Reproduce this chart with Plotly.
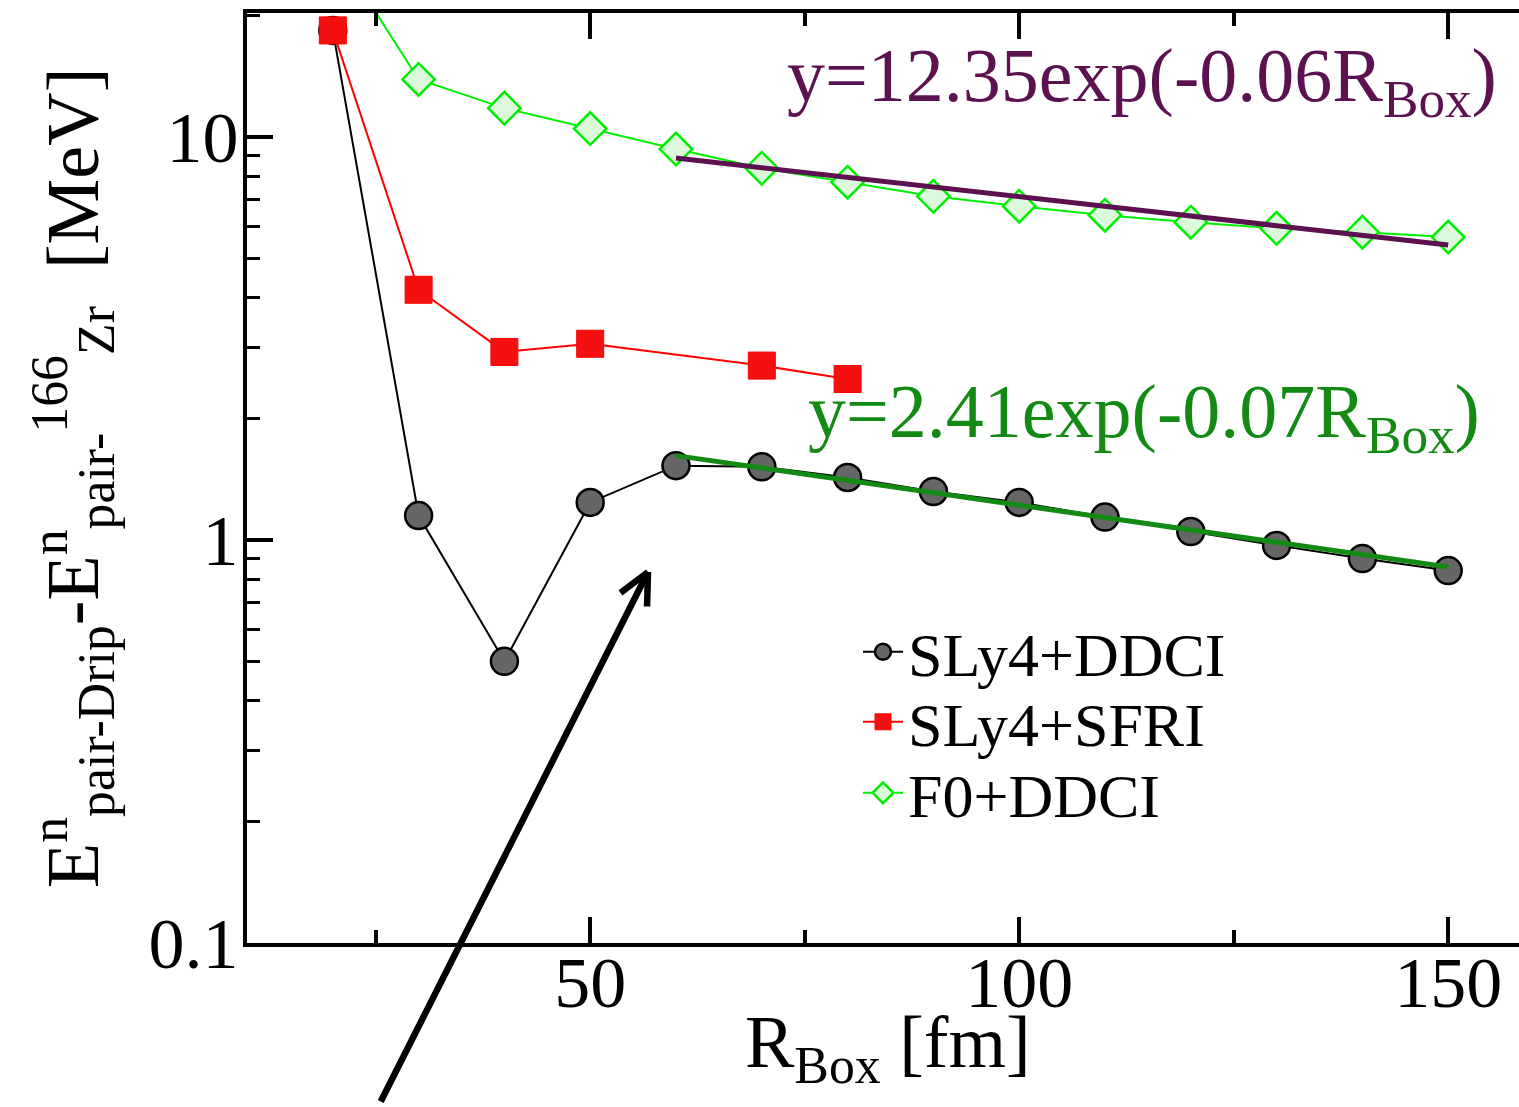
import plotly.graph_objects as go

# ---- data ----
r_box = [20, 30, 40, 50, 60, 70, 80, 90, 100, 110, 120, 130, 140, 150]
sly4_ddci = [18.4, 1.15, 0.50, 1.24, 1.53, 1.52, 1.43, 1.32, 1.24, 1.14, 1.05, 0.97, 0.90, 0.84]

r_box_sfri = [20, 30, 40, 50, 70, 80]
sly4_sfri = [18.4, 4.18, 2.93, 3.07, 2.71, 2.51]

f0_ddci = [30.0, 13.9, 11.8, 10.5, 9.34, 8.37, 7.73, 7.13, 6.74, 6.40, 6.15, 5.94, 5.81, 5.65]

fit_x = [60, 150]
fit_f0 = [8.87, 5.40]
fit_sly4 = [1.62, 0.857]

x_tickvals = [50, 100, 150]
x_minor_vals = [25, 75, 125]
y_tickvals = [0.1, 1, 10]
y_ticktext = ["0.1", "1", "10"]
y_minor_vals = [0.2, 0.3, 0.4, 0.5, 0.6, 0.7, 0.8, 0.9, 2, 3, 4, 5, 6, 7, 8, 9, 20]

FONT = "Liberation Serif"
PURPLE = "#5c1150"
DKGREEN = "#138a13"
LGREEN = "#00ee00"

L_PX, T_PX, B_PX = 247, 13, 943
PLOT_W = 1519 - L_PX
PLOT_H = B_PX - T_PX


def px(xp):
    return (xp - L_PX) / PLOT_W


def py(yp):
    return (B_PX - yp) / PLOT_H


fig = go.Figure()

fig.add_trace(go.Scatter(
    x=r_box, y=sly4_ddci, mode="lines+markers", name="SLy4+DDCI", legend="legend",
    line=dict(color="black", width=2),
    marker=dict(symbol="circle", size=27, color="#666666", line=dict(color="black", width=2.5)),
))
fig.add_trace(go.Scatter(
    x=r_box_sfri, y=sly4_sfri, mode="lines+markers", name="SLy4+SFRI", legend="legend2",
    line=dict(color="#ff0000", width=2),
    marker=dict(symbol="square", size=27, color="#f41010", line=dict(color="#ff0000", width=1)),
))
fig.add_trace(go.Scatter(
    x=r_box, y=f0_ddci, mode="lines+markers", name="F0+DDCI", legend="legend3",
    line=dict(color=LGREEN, width=2),
    marker=dict(symbol="diamond", size=25, color="#dcf9dc", line=dict(color=LGREEN, width=2.5)),
))
fig.add_trace(go.Scatter(
    x=fit_x, y=fit_f0, mode="lines", showlegend=False,
    line=dict(color=PURPLE, width=5),
))
fig.add_trace(go.Scatter(
    x=fit_x, y=fit_sly4, mode="lines", showlegend=False,
    line=dict(color=DKGREEN, width=5),
))

axis_common = dict(
    showline=True, linewidth=4, linecolor="black",
    ticks="inside", tickwidth=4, tickcolor="black", ticklen=26,
    showgrid=False, zeroline=False, automargin=False,
    tickfont=dict(family=FONT, size=72, color="black"),
)

x_range = [10, 10 + PLOT_W / 8.58]
y_range = [-1, 1.308]

fig.update_layout(
    xaxis=dict(
        range=x_range, tickvals=x_tickvals, mirror="ticks", ticklabelstandoff=-26,
        minor=dict(ticks="inside", ticklen=13, tickwidth=4, tickcolor="black", tickvals=x_minor_vals),
        **axis_common,
    ),
    yaxis=dict(
        type="log", range=y_range, tickvals=y_tickvals, ticktext=y_ticktext,
        mirror=False, ticklabelstandoff=-10,
        minor=dict(ticks="inside", ticklen=13, tickwidth=3, tickcolor="black", tickvals=y_minor_vals),
        **axis_common,
    ),
    yaxis2=dict(
        type="log", range=y_range, overlaying="y", side="right", anchor="x",
        showline=False, showticklabels=False, showgrid=False, zeroline=False,
        ticks="inside", tickwidth=4, tickcolor="black", ticklen=26, tickvals=y_tickvals,
        minor=dict(ticks="inside", ticklen=13, tickwidth=3, tickcolor="black", tickvals=y_minor_vals),
        automargin=False,
    ),
)

annotations = [
    dict(text="y=12.35exp(-0.06R<sub>Box</sub>)", xref="paper", yref="paper",
         x=px(785), y=py(81), xanchor="left", yanchor="middle",
         showarrow=False, font=dict(family=FONT, size=76, color=PURPLE)),
    dict(text="y=2.41exp(-0.07R<sub>Box</sub>)", xref="paper", yref="paper",
         x=px(806), y=py(417), xanchor="left", yanchor="middle",
         showarrow=False, font=dict(family=FONT, size=76, color=DKGREEN)),
    dict(text="R<sub>Box</sub> [fm]", xref="paper", yref="paper",
         x=px(888), y=py(1047), xanchor="center", yanchor="middle",
         showarrow=False, font=dict(family=FONT, size=74, color="black")),
    dict(text="E<sup>n</sup><sub>pair-Drip</sub>-E<sup>n</sup><sub>pair-</sub><sup>166</sup><sub>Zr</sub>  [MeV]",
         xref="paper", yref="paper", textangle=-90,
         x=px(73), y=0.5, xanchor="center", yanchor="middle",
         showarrow=False, font=dict(family=FONT, size=74, color="black")),
]

# arrow (main shaft + chevron head)
tip_x = px(648)
tip_y = py(572)
for ax, ay in [(-268, 531), (-29, 22), (-1, 36)]:
    annotations.append(dict(
        text="", xref="paper", yref="paper", x=tip_x, y=tip_y,
        ax=ax, ay=ay, axref="pixel", ayref="pixel",
        showarrow=True, arrowhead=0, arrowwidth=6.5, arrowcolor="black",
        standoff=0, startstandoff=0,
    ))

legend_common = dict(
    xanchor="left", yanchor="middle",
    font=dict(family=FONT, size=62, color="black"),
    bgcolor="rgba(0,0,0,0)", borderwidth=0, itemwidth=40,
)

fig.update_layout(
    width=1519, height=1107,
    margin=dict(l=L_PX, r=0, t=T_PX, b=1107 - B_PX),
    paper_bgcolor="white", plot_bgcolor="white",
    font=dict(family=FONT, color="black"),
    legend=dict(x=px(858), y=py(652), **legend_common),
    legend2=dict(x=px(858), y=py(722), **legend_common),
    legend3=dict(x=px(858), y=py(793), **legend_common),
    annotations=annotations,
)

fig.write_html(
    "out.html",
    config={"displayModeBar": False},
    post_script="document.body.style.margin='0';document.body.style.overflow='hidden';",
)
